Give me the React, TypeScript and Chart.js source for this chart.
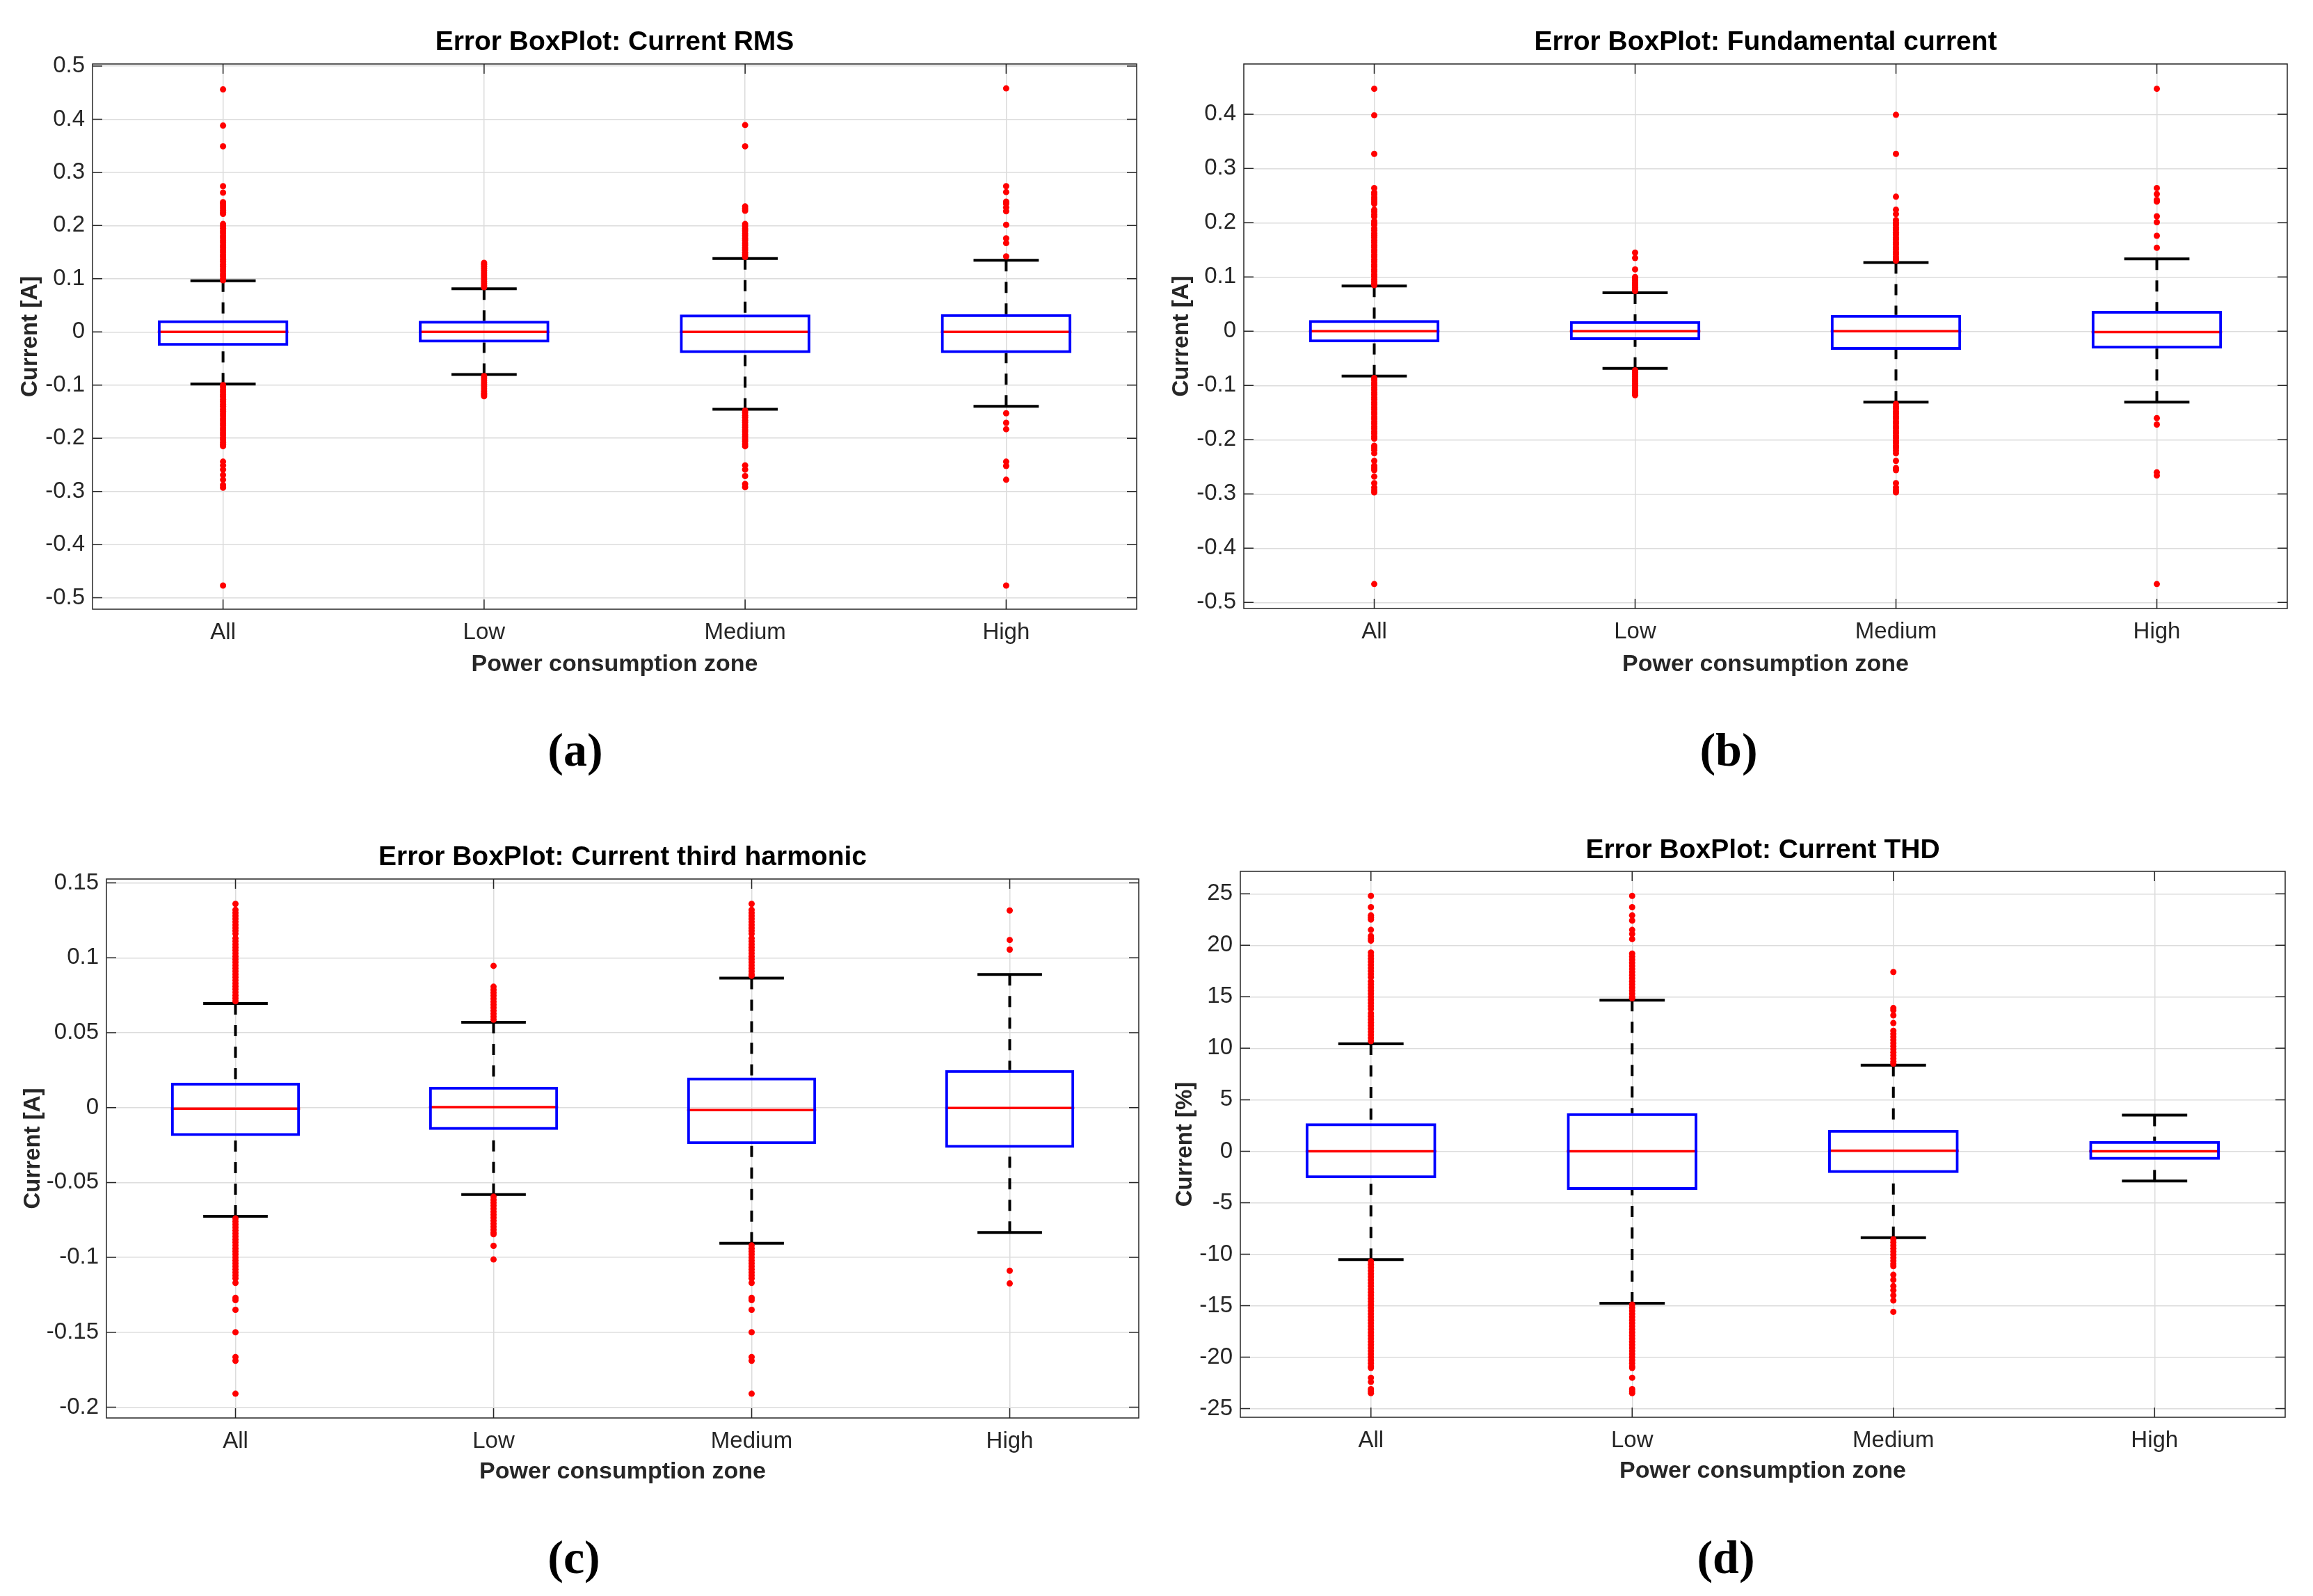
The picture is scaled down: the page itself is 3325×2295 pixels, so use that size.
import React, { useEffect, useRef } from "react";
import { Chart, registerables } from "chart.js";

Chart.register(...registerables);
Chart.defaults.font.family = "'Liberation Sans', Arial, Helvetica, sans-serif";

// ---------------- data ----------------
const categories = ["All", "Low", "Medium", "High"];
const xAxisTitle = "Power consumption zone";

// (a) Current RMS
const rmsQ1 = [-0.026, -0.02, -0.04, -0.04];
const rmsMedian = [0, 0, 0, 0];
const rmsQ3 = [0.022, 0.021, 0.0326, 0.0334];
const rmsWhiskerLow = [-0.098, -0.08, -0.1455, -0.14];
const rmsWhiskerHigh = [0.096, 0.081, 0.138, 0.1346];
const rmsOutliersAll = [0.456, 0.388, 0.349, 0.274, 0.262, 0.244, 0.241, 0.237, 0.233, 0.229, 0.225, 0.222, 0.203, 0.199, 0.195, 0.19, 0.186, 0.181, 0.177, 0.172, 0.168, 0.163, 0.159, 0.154, 0.15, 0.145, 0.141, 0.136, 0.132, 0.127, 0.123, 0.118, 0.114, 0.109, 0.105, 0.1, 0.097, -0.1, -0.104, -0.109, -0.113, -0.118, -0.122, -0.127, -0.131, -0.136, -0.14, -0.145, -0.149, -0.154, -0.158, -0.163, -0.167, -0.172, -0.176, -0.181, -0.185, -0.19, -0.194, -0.199, -0.203, -0.208, -0.212, -0.215, -0.244, -0.251, -0.259, -0.269, -0.278, -0.288, -0.293, -0.477];
const rmsOutliersLow = [0.13, 0.127, 0.123, 0.119, 0.115, 0.111, 0.107, 0.103, 0.099, 0.095, 0.091, 0.087, 0.084, -0.083, -0.087, -0.091, -0.095, -0.099, -0.103, -0.107, -0.111, -0.115, -0.118, -0.121];
const rmsOutliersMedium = [0.389, 0.349, 0.236, 0.232, 0.228, 0.203, 0.199, 0.194, 0.19, 0.185, 0.181, 0.176, 0.172, 0.167, 0.163, 0.158, 0.154, 0.149, 0.145, 0.141, -0.148, -0.152, -0.157, -0.161, -0.166, -0.17, -0.175, -0.179, -0.184, -0.188, -0.193, -0.197, -0.202, -0.206, -0.211, -0.215, -0.251, -0.259, -0.271, -0.286, -0.292];
const rmsOutliersHigh = [0.458, 0.274, 0.263, 0.245, 0.241, 0.234, 0.227, 0.2015, 0.176, 0.167, 0.142, -0.153, -0.171, -0.183, -0.244, -0.252, -0.278, -0.477];
const rmsTicks = [-0.5, -0.4, -0.3, -0.2, -0.1, 0, 0.1, 0.2, 0.3, 0.4, 0.5];

// (b) Fundamental current
const fundQ1 = [-0.0204, -0.0163, -0.0343, -0.0319];
const fundMedian = [0, 0, 0, -0.0016];
const fundQ3 = [0.0205, 0.0188, 0.0302, 0.0376];
const fundWhiskerLow = [-0.0825, -0.0686, -0.1307, -0.1307];
const fundWhiskerHigh = [0.0835, 0.071, 0.1266, 0.1335];
const fundOutliersAll = [0.447, 0.398, 0.327, 0.264, 0.256, 0.252, 0.247, 0.243, 0.239, 0.235, 0.224, 0.22, 0.215, 0.211, 0.203, 0.199, 0.196, 0.19, 0.186, 0.181, 0.177, 0.173, 0.168, 0.164, 0.159, 0.155, 0.15, 0.146, 0.141, 0.137, 0.132, 0.128, 0.123, 0.119, 0.114, 0.11, 0.105, 0.101, 0.096, 0.092, 0.088, 0.085, -0.086, -0.09, -0.095, -0.099, -0.104, -0.108, -0.113, -0.117, -0.122, -0.126, -0.131, -0.135, -0.14, -0.144, -0.149, -0.153, -0.158, -0.162, -0.167, -0.171, -0.176, -0.18, -0.185, -0.189, -0.194, -0.198, -0.211, -0.215, -0.219, -0.225, -0.239, -0.248, -0.252, -0.256, -0.268, -0.28, -0.288, -0.293, -0.297, -0.466];
const fundOutliersLow = [0.145, 0.135, 0.114, 0.1, 0.097, 0.093, 0.089, 0.085, 0.081, 0.077, 0.074, -0.072, -0.076, -0.08, -0.084, -0.088, -0.092, -0.096, -0.1, -0.104, -0.108, -0.112, -0.115, -0.118];
const fundOutliersMedium = [0.399, 0.327, 0.248, 0.224, 0.216, 0.205, 0.2, 0.196, 0.191, 0.187, 0.182, 0.178, 0.173, 0.169, 0.164, 0.16, 0.155, 0.151, 0.146, 0.142, 0.137, 0.133, 0.13, -0.134, -0.139, -0.143, -0.148, -0.152, -0.157, -0.161, -0.166, -0.17, -0.175, -0.179, -0.184, -0.188, -0.193, -0.197, -0.202, -0.206, -0.211, -0.215, -0.22, -0.225, -0.239, -0.252, -0.256, -0.28, -0.288, -0.293, -0.297];
const fundOutliersHigh = [0.447, 0.264, 0.253, 0.242, 0.239, 0.212, 0.201, 0.176, 0.154, -0.16, -0.172, -0.26, -0.266, -0.466];
const fundTicks = [-0.5, -0.4, -0.3, -0.2, -0.1, 0, 0.1, 0.2, 0.3, 0.4];

// (c) Current third harmonic
const thirdQ1 = [-0.019, -0.0149, -0.0244, -0.0268];
const thirdMedian = [-0.0007, 0.0003, -0.0017, -0.0003];
const thirdQ3 = [0.0166, 0.0139, 0.02, 0.0251];
const thirdWhiskerLow = [-0.0726, -0.058, -0.0906, -0.0834];
const thirdWhiskerHigh = [0.0695, 0.057, 0.0865, 0.0889];
const thirdOutliersAll = [0.136, 0.132, 0.13, 0.128, 0.126, 0.124, 0.122, 0.12, 0.118, 0.116, 0.113, 0.111, 0.109, 0.107, 0.105, 0.103, 0.101, 0.099, 0.097, 0.095, 0.093, 0.091, 0.089, 0.087, 0.085, 0.083, 0.081, 0.079, 0.077, 0.075, 0.073, 0.071, -0.074, -0.076, -0.078, -0.08, -0.082, -0.084, -0.086, -0.088, -0.09, -0.092, -0.094, -0.096, -0.098, -0.1, -0.102, -0.104, -0.106, -0.108, -0.11, -0.112, -0.114, -0.117, -0.127, -0.1285, -0.135, -0.15, -0.1665, -0.169, -0.191];
const thirdOutliersLow = [0.0946, 0.0807, 0.0787, 0.0767, 0.0747, 0.0727, 0.0707, 0.0687, 0.0667, 0.0647, 0.0627, 0.0607, 0.0587, -0.0595, -0.0615, -0.0635, -0.0655, -0.0675, -0.0695, -0.0715, -0.0735, -0.0755, -0.0775, -0.0795, -0.0815, -0.0835, -0.0845, -0.0923, -0.1014];
const thirdOutliersMedium = [0.136, 0.132, 0.13, 0.128, 0.126, 0.124, 0.122, 0.12, 0.118, 0.116, 0.113, 0.111, 0.109, 0.107, 0.105, 0.103, 0.101, 0.099, 0.097, 0.095, 0.093, 0.091, 0.089, 0.088, -0.092, -0.094, -0.096, -0.098, -0.1, -0.102, -0.104, -0.106, -0.108, -0.11, -0.112, -0.114, -0.117, -0.127, -0.1285, -0.135, -0.15, -0.1665, -0.169, -0.191];
const thirdOutliersHigh = [0.1316, 0.1119, 0.1055, -0.1089, -0.1174];
const thirdTicks = [-0.2, -0.15, -0.1, -0.05, 0, 0.05, 0.1, 0.15];

// (d) Current THD
const thdQ1 = [-2.62, -3.75, -2.12, -0.84];
const thdMedian = [0, 0, 0.05, 0];
const thdQ3 = [2.72, 3.7, 2.07, 0.99];
const thdWhiskerLow = [-10.52, -14.77, -8.4, -2.9];
const thdWhiskerHigh = [10.43, 14.67, 8.35, 3.5];
const thdOutliersAll = [24.8, 23.7, 22.9, 22.7, 22.5, 21.5, 20.9, 20.65, 20.45, 19.3, 19.0, 18.7, 18.4, 18.1, 17.8, 17.5, 17.2, 16.9, 16.5, 16.2, 15.9, 15.6, 15.3, 15.0, 14.7, 14.4, 14.1, 13.8, 13.4, 13.1, 12.8, 12.5, 12.2, 11.9, 11.6, 11.3, 11.0, 10.7, -10.7, -11.0, -11.3, -11.6, -11.9, -12.2, -12.5, -12.8, -13.1, -13.4, -13.7, -14.0, -14.3, -14.6, -14.9, -15.2, -15.5, -15.8, -16.1, -16.4, -16.7, -17.0, -17.3, -17.6, -17.9, -18.2, -18.5, -18.8, -19.1, -19.4, -19.7, -20.0, -20.3, -20.6, -20.9, -21.05, -22.0, -22.4, -23.1, -23.3, -23.5];
const thdOutliersLow = [24.8, 23.7, 22.9, 22.4, 21.5, 21.1, 20.6, 19.2, 18.9, 18.6, 18.3, 18.0, 17.7, 17.4, 17.1, 16.8, 16.5, 16.2, 15.9, 15.6, 15.3, 15.0, 14.85, -14.9, -15.2, -15.5, -15.8, -16.1, -16.4, -16.7, -17.0, -17.3, -17.6, -17.9, -18.2, -18.5, -18.8, -19.1, -19.4, -19.7, -20.0, -20.3, -20.6, -20.9, -21.05, -22.0, -23.1, -23.3, -23.5];
const thdOutliersMedium = [17.4, 13.9, 13.7, 13.2, 12.45, 11.7, 11.4, 11.1, 10.8, 10.5, 10.2, 9.9, 9.6, 9.3, 9.0, 8.7, 8.5, -8.55, -8.85, -9.15, -9.45, -9.75, -10.05, -10.35, -10.65, -10.95, -11.17, -12.0, -12.5, -13.1, -13.5, -14.0, -14.5, -15.6];
const thdOutliersHigh: number[] = [];
const thdTicks = [-25, -20, -15, -10, -5, 0, 5, 10, 15, 20, 25];

// ---------------- styling / layout ----------------
const TEXT = "#262626";
const GRID = "#dcdcdc";

type PanelDef = {
  caption: string;
  title: string;
  yTitle: string;
  q1: number[]; median: number[]; q3: number[]; lo: number[]; hi: number[];
  outliers: number[][];
  ticks: number[];
  yMin: number; yMax: number;
  left: number; top: number; w: number; h: number;
  padRight: number; padBottom: number;
  yAxisWidth: number;
  titlePadTop: number; titlePadBottom: number;
  yTitlePad: number; xTitlePad: number;
  capX: number; capY: number;
};

const panels: PanelDef[] = [
  {
    caption: "(a)", title: "Error BoxPlot: Current RMS", yTitle: "Current [A]",
    q1: rmsQ1, median: rmsMedian, q3: rmsQ3, lo: rmsWhiskerLow, hi: rmsWhiskerHigh,
    outliers: [rmsOutliersAll, rmsOutliersLow, rmsOutliersMedium, rmsOutliersHigh],
    ticks: rmsTicks, yMin: -0.5215, yMax: 0.5039,
    left: 0, top: 0, w: 1662, h: 1150, padRight: 28, padBottom: 174, yAxisWidth: 133,
    titlePadTop: 41.5, titlePadBottom: 11.5, yTitlePad: 27.5, xTitlePad: 3,
    capX: 827, capY: 1083,
  },
  {
    caption: "(b)", title: "Error BoxPlot: Fundamental current", yTitle: "Current [A]",
    q1: fundQ1, median: fundMedian, q3: fundQ3, lo: fundWhiskerLow, hi: fundWhiskerHigh,
    outliers: [fundOutliersAll, fundOutliersLow, fundOutliersMedium, fundOutliersHigh],
    ticks: fundTicks, yMin: -0.5111, yMax: 0.4927,
    left: 1662, top: 0, w: 1663, h: 1150, padRight: 37, padBottom: 175, yAxisWidth: 126,
    titlePadTop: 41.5, titlePadBottom: 11.5, yTitlePad: 20.5, xTitlePad: 2,
    capX: 2485, capY: 1083,
  },
  {
    caption: "(c)", title: "Error BoxPlot: Current third harmonic", yTitle: "Current [A]",
    q1: thirdQ1, median: thirdMedian, q3: thirdQ3, lo: thirdWhiskerLow, hi: thirdWhiskerHigh,
    outliers: [thirdOutliersAll, thirdOutliersLow, thirdOutliersMedium, thirdOutliersHigh],
    ticks: thirdTicks, yMin: -0.2072, yMax: 0.1526,
    left: 0, top: 1150, w: 1662, h: 1145, padRight: 25, padBottom: 156, yAxisWidth: 153,
    titlePadTop: 63.5, titlePadBottom: 11.5, yTitlePad: 31.5, xTitlePad: 5,
    capX: 825, capY: 2244,
  },
  {
    caption: "(d)", title: "Error BoxPlot: Current THD", yTitle: "Current [%]",
    q1: thdQ1, median: thdMedian, q3: thdQ3, lo: thdWhiskerLow, hi: thdWhiskerHigh,
    outliers: [thdOutliersAll, thdOutliersLow, thdOutliersMedium, thdOutliersHigh],
    ticks: thdTicks, yMin: -25.84, yMax: 27.18,
    left: 1662, top: 1150, w: 1663, h: 1145, padRight: 40, padBottom: 157, yAxisWidth: 121,
    titlePadTop: 53.5, titlePadBottom: 10.5, yTitlePad: 25.5, xTitlePad: 5,
    capX: 2481, capY: 2244,
  },
];

function makeBoxPlugin(p: PanelDef) {
  return {
    id: "matlabBoxes",
    beforeDatasetsDraw(chart: any) {
      const { ctx } = chart;
      const xs = chart.scales.x;
      const ys = chart.scales.y;
      const step = xs.getPixelForValue(1) - xs.getPixelForValue(0);
      const capHalf = step * 0.125;
      const boxHalf = step * 0.25;
      ctx.save();
      // dashed whiskers
      ctx.strokeStyle = "#000000";
      ctx.lineWidth = 4;
      ctx.setLineDash([16, 15]);
      categories.forEach((_, i) => {
        const x = xs.getPixelForValue(i);
        ctx.beginPath();
        ctx.moveTo(x, ys.getPixelForValue(p.hi[i]));
        ctx.lineTo(x, ys.getPixelForValue(p.q3[i]));
        ctx.stroke();
        ctx.beginPath();
        ctx.moveTo(x, ys.getPixelForValue(p.lo[i]));
        ctx.lineTo(x, ys.getPixelForValue(p.q1[i]));
        ctx.stroke();
      });
      ctx.setLineDash([]);
      // caps
      categories.forEach((_, i) => {
        const x = xs.getPixelForValue(i);
        ctx.beginPath();
        [p.hi[i], p.lo[i]].forEach((v) => {
          const y = ys.getPixelForValue(v);
          ctx.moveTo(x - capHalf, y);
          ctx.lineTo(x + capHalf, y);
        });
        ctx.stroke();
      });
      // medians
      ctx.strokeStyle = "#ff0000";
      ctx.lineWidth = 3.5;
      categories.forEach((_, i) => {
        const x = xs.getPixelForValue(i);
        const y = ys.getPixelForValue(p.median[i]);
        ctx.beginPath();
        ctx.moveTo(x - boxHalf, y);
        ctx.lineTo(x + boxHalf, y);
        ctx.stroke();
      });
      ctx.restore();
    },
  };
}

const framePlugin = {
  id: "matlabFrame",
  afterDraw(chart: any) {
    const { ctx, chartArea: a } = chart;
    const xs = chart.scales.x;
    const ys = chart.scales.y;
    const tl = 14;
    ctx.save();
    ctx.strokeStyle = TEXT;
    ctx.lineWidth = 1.5;
    ctx.strokeRect(a.left, a.top, a.right - a.left, a.bottom - a.top);
    ctx.beginPath();
    ys.ticks.forEach((t: any) => {
      const y = ys.getPixelForValue(t.value);
      ctx.moveTo(a.left, y);
      ctx.lineTo(a.left + tl, y);
      ctx.moveTo(a.right, y);
      ctx.lineTo(a.right - tl, y);
    });
    categories.forEach((_, i) => {
      const x = xs.getPixelForValue(i);
      ctx.moveTo(x, a.bottom);
      ctx.lineTo(x, a.bottom - tl);
      ctx.moveTo(x, a.top);
      ctx.lineTo(x, a.top + tl);
    });
    ctx.stroke();
    ctx.restore();
  },
};

function buildConfig(p: PanelDef): any {
  const points: { x: string; y: number }[] = [];
  p.outliers.forEach((list, i) => list.forEach((v) => points.push({ x: categories[i], y: v })));
  return {
    type: "bar",
    data: {
      labels: categories,
      datasets: [
        {
          type: "bar",
          data: categories.map((_, i) => [p.q1[i], p.q3[i]]),
          backgroundColor: "rgba(0,0,0,0)",
          borderColor: "#0000ff",
          borderWidth: 4,
          borderSkipped: false,
          barPercentage: 0.5,
          categoryPercentage: 1,
          order: 2,
        },
        {
          type: "scatter",
          data: points,
          backgroundColor: "#ff0000",
          borderWidth: 0,
          pointRadius: 4.5,
          pointStyle: "circle",
          order: 1,
        },
      ],
    },
    options: {
      animation: false,
      responsive: false,
      events: [],
      layout: { padding: { left: 0, top: 0, right: p.padRight, bottom: p.padBottom } },
      plugins: {
        legend: { display: false },
        tooltip: { enabled: false },
        title: {
          display: true,
          text: p.title,
          fullSize: false,
          color: "#000000",
          font: { size: 39, weight: "bold", lineHeight: 1 },
          padding: { top: p.titlePadTop, bottom: p.titlePadBottom },
        },
      },
      scales: {
        x: {
          type: "category",
          offset: true,
          grid: { offset: false, color: GRID, lineWidth: 1.5, drawTicks: false },
          border: { display: false },
          ticks: { color: TEXT, font: { size: 33, lineHeight: 1 }, padding: 17, maxRotation: 0, minRotation: 0, autoSkip: false },
          title: {
            display: true,
            text: xAxisTitle,
            color: TEXT,
            font: { size: 34, weight: "bold", lineHeight: 1 },
            padding: { top: 0, bottom: p.xTitlePad },
          },
          afterFit: (s: any) => { s.height = 100; },
        },
        y: {
          type: "linear",
          min: p.yMin,
          max: p.yMax,
          afterBuildTicks: (s: any) => { s.ticks = p.ticks.map((v) => ({ value: v })); },
          grid: { color: GRID, lineWidth: 1.5, drawTicks: false },
          border: { display: false },
          ticks: { color: TEXT, font: { size: 33, lineHeight: 1 }, padding: 11, callback: (v: any) => String(v) },
          title: {
            display: true,
            text: p.yTitle,
            color: TEXT,
            font: { size: 33, weight: "bold", lineHeight: 1 },
            padding: { top: p.yTitlePad, bottom: 0 },
          },
          afterFit: (s: any) => { s.width = p.yAxisWidth; },
        },
      },
    },
    plugins: [makeBoxPlugin(p), framePlugin],
  };
}

function Panel({ p }: { p: PanelDef }) {
  const ref = useRef<HTMLCanvasElement>(null);
  useEffect(() => {
    const chart = new Chart(ref.current as HTMLCanvasElement, buildConfig(p));
    return () => chart.destroy();
  }, [p]);
  return (
    <canvas
      ref={ref}
      width={p.w}
      height={p.h}
      style={{ position: "absolute", left: p.left, top: p.top, width: p.w, height: p.h }}
    />
  );
}

export default function App() {
  return (
    <div style={{ position: "absolute", left: 0, top: 0, width: 3325, height: 2295, background: "#ffffff", overflow: "hidden" }}>
      {panels.map((p) => (
        <Panel key={p.caption} p={p} />
      ))}
      {panels.map((p) => (
        <div
          key={"cap" + p.caption}
          style={{
            position: "absolute",
            left: p.capX,
            top: p.capY - 5,
            transform: "translate(-50%, -50%)",
            fontFamily: "'Liberation Serif', 'DejaVu Serif', serif",
            fontSize: 68,
            fontWeight: "bold",
            lineHeight: 1,
            color: "#000000",
            whiteSpace: "nowrap",
          }}
        >
          {p.caption}
        </div>
      ))}
    </div>
  );
}
